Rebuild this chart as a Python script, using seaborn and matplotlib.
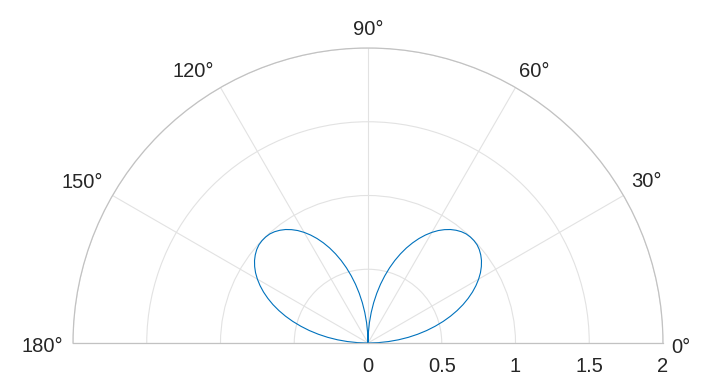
import numpy as np
import pandas as pd
import matplotlib
matplotlib.use("Agg")
import matplotlib.pyplot as plt
import matplotlib.transforms as mtransforms
import seaborn as sns

# ---- data ----
theta_deg = list(range(0, 181, 2))
lobe = [0.000, 0.070, 0.139, 0.208, 0.276, 0.342, 0.407, 0.469, 0.530, 0.588,
        0.643, 0.695, 0.743, 0.788, 0.829, 0.866, 0.899, 0.927, 0.951, 0.970,
        0.985, 0.995, 0.999, 0.999, 0.995, 0.985, 0.970, 0.951, 0.927, 0.899,
        0.866, 0.829, 0.788, 0.743, 0.695, 0.643, 0.588, 0.530, 0.469, 0.407,
        0.342, 0.276, 0.208, 0.139, 0.070, 0.000]
r_vals = lobe + lobe[1:]
theta_ticks = [0, 30, 60, 90, 120, 150, 180]
theta_labels = ["0°", "30°", "60°", "90°", "120°", "150°", "180°"]
r_ticks = [0, 0.5, 1, 1.5, 2]
r_labels = ["0", "0.5", "1", "1.5", "2"]

# ---- label layout (pixel offsets from the outer arc, alignment) ----
theta_label_layout = {
    0: (8, -9.7, "left"),
    30: (7.5, 8.8, "left"),
    60: (3.5, 10.8, "left"),
    90: (0, 13, "center"),
    120: (-6.2, 10.5, "right"),
    150: (-9.2, 7.8, "right"),
    180: (-10.3, -8.7, "right"),
}

sns.set_theme(style="white")
plt.rcParams["font.family"] = ["Liberation Sans", "DejaVu Sans"]

W, H = 711, 388
fig = plt.figure(figsize=(W / 100, H / 100), dpi=100)
# square box; the half-disc wedge is fitted into it centred vertically
ax = fig.add_axes([73 / W, (H - 490.5) / H, 590 / W, 590 / H], projection="polar")
ax.set_thetamin(0)
ax.set_thetamax(180)
ax.set_ylim(0, 2)

df = pd.DataFrame({"theta": np.deg2rad(theta_deg), "r": r_vals})
sns.lineplot(data=df, x="theta", y="r", ax=ax, sort=False, estimator=None,
             color="#0072BD", linewidth=0.8)
ax.set_xlabel("")
ax.set_ylabel("")

text_color = "#262626"
fs = 14.5
ax.set_thetagrids(theta_ticks, [""] * len(theta_ticks))
ax.set_rgrids(r_ticks, [""] * len(r_ticks))
ax.grid(True, color="#e2e2e2", linewidth=0.8)
for sp in ax.spines.values():
    sp.set_color("#c2c2c2")
    sp.set_linewidth(0.9)

rmax = r_ticks[-1]
for t, lab in zip(theta_ticks, theta_labels):
    dx, dy, ha = theta_label_layout[t]
    off = mtransforms.ScaledTranslation(dx / 100, dy / 100, fig.dpi_scale_trans)
    ax.text(np.deg2rad(t), rmax, lab, transform=ax.transData + off,
            ha=ha, va="baseline", fontsize=fs, color=text_color, clip_on=False)

off_r = mtransforms.ScaledTranslation(0, -29.5 / 100, fig.dpi_scale_trans)
for rv, lab in zip(r_ticks, r_labels):
    ax.text(0, rv, lab, transform=ax.transData + off_r, ha="center", va="baseline",
            fontsize=fs, color=text_color, clip_on=False)

fig.savefig("out.png", dpi=100, facecolor="white")
